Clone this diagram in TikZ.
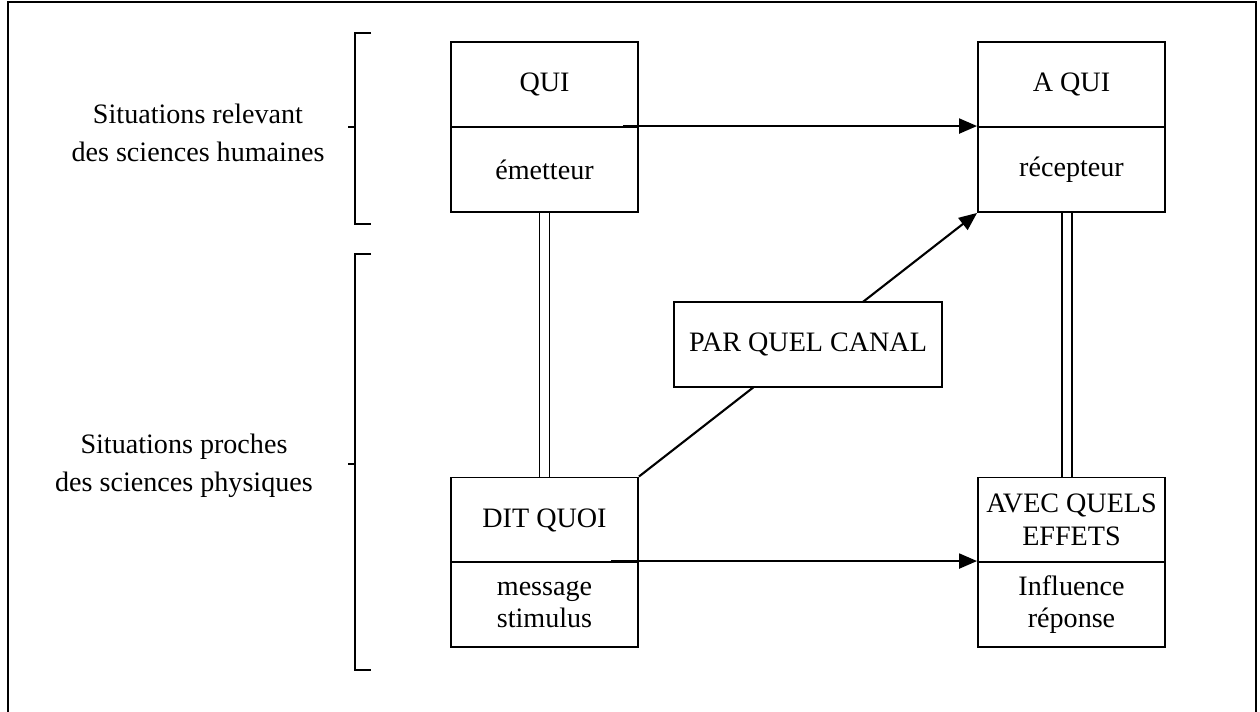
\documentclass[tikz,border=0pt]{standalone}
\usepackage{fontspec}
\setmainfont{Liberation Serif}
\usetikzlibrary{arrows.meta,calc}

\begin{document}
\begin{tikzpicture}[x=0.02cm,y=-0.02cm,
  cell/.style={rectangle, draw, line width=1.1pt, minimum width=3.74cm, minimum height=1.7cm, inner sep=0pt, align=center, font=\fontsize{16}{18.5}\selectfont},
  lbl/.style={align=center, font=\fontsize{16}{21.5}\selectfont},
  fl/.style={-{Triangle[length=0.36cm,width=0.3cm]}, line width=1.2pt},
  brkt/.style={line width=1.3pt}]
\useasboundingbox (0,0) rectangle (1260,712);
\draw[line width=1.3pt] (8,712) -- (8,2) -- (1256,2) -- (1256,712);

% les quatre boites
\node[cell] (qui) at (544.5,84.5) {QUI};
\node[cell] (emet) at (544.5,169.5) {émetteur};
\node[cell] (aqui) at (1071.5,84.5) {A QUI};
\node[cell] (recep) at (1071.5,169.5) {récepteur};
\node[cell] (dit) at (544.5,520) {DIT QUOI};
\node[cell] (msg) at (544.5,604.5) {message\\stimulus};
\node[cell] (avec) at (1071.5,520) {AVEC QUELS\\EFFETS};
\node[cell] (infl) at (1071.5,604.5) {Influence\\réponse};

\draw[fl] ([xshift=-0.32cm]emet.north east) -- (recep.north west);
\draw[fl] ([xshift=-0.56cm]msg.north east) -- (infl.north west);
\draw[fl] (dit.north east) -- (recep.south west);
\node[cell, fill=white, minimum width=5.36cm] (canal) at ($(dit.north east)!0.5!(recep.south west)$) {PAR QUEL CANAL};

\foreach \s in {-0.1,0.1} {
  \draw[line width=1.1pt] ([xshift=\s cm]emet.south) -- ([xshift=\s cm]dit.north);
  \draw[line width=1.1pt] ([xshift=\s cm-0.09cm]recep.south) -- ([xshift=\s cm-0.09cm]avec.north);
}

% accolades
\draw[brkt] (371,33) -- (355,33) -- (355,224) -- (371,224) (348,127) -- (355,127);
\draw[brkt] (371,254) -- (355,254) -- (355,670) -- (371,670) (348,464) -- (355,464);

\node[lbl] (lhum) at (198,133) {Situations relevant\\des sciences humaines};
\node[lbl] (lphys) at (184,466) {Situations proches\\des sciences physiques};
\end{tikzpicture}
\end{document}
